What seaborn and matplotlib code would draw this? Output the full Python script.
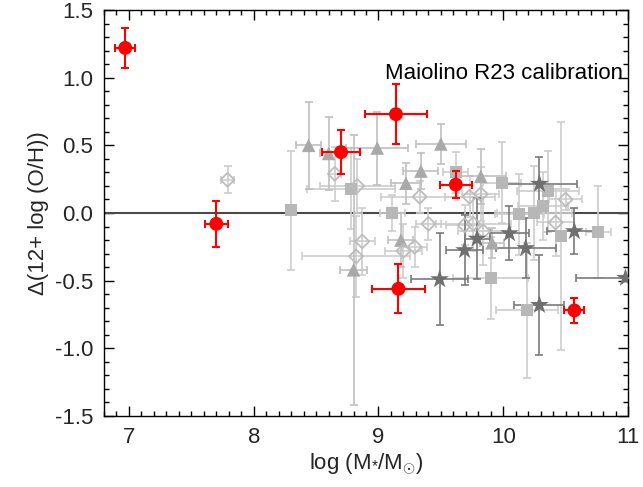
import numpy as np
import pandas as pd
import matplotlib
matplotlib.use("Agg")
import matplotlib.pyplot as plt
import seaborn as sns
from matplotlib.ticker import MultipleLocator

# ---- data ----
red_x = [6.97, 7.70, 8.70, 9.14, 9.62, 9.16, 10.57]
red_y = [1.22, -0.08, 0.45, 0.73, 0.21, -0.56, -0.72]
red_xerr = [0.08, 0.09, 0.15, 0.25, 0.13, 0.21, 0.08]
red_yerr = [0.15, 0.17, 0.16, 0.22, 0.10, 0.18, 0.095]

sq_x = [8.30, 8.78, 9.11, 9.62, 9.99, 10.36, 10.32, 10.25, 10.13, 10.46, 10.76, 9.90, 10.19]
sq_y = [0.02, 0.18, 0.00, 0.30, 0.225, 0.16, 0.05, 0.00, -0.01, -0.17, -0.14, -0.48, -0.72]
sq_xerr = [0.0, 0.35, 0.10, 0.10, 0.15, 0.25, 0.20, 0.30, 0.20, 0.0, 0.10, 0.30, 0.25]
sq_yerr = [0.44, 0.30, 0.13, 0.15, 0.30, 0.30, 0.25, 0.35, 0.30, 0.84, 0.34, 0.30, 0.50]

tri_x = [8.44, 8.60, 8.99, 9.50, 9.34, 9.22, 9.82, 9.91, 9.18, 8.80]
tri_y = [0.50, 0.44, 0.48, 0.51, 0.31, 0.22, 0.27, -0.22, -0.20, -0.42]
tri_xerr = [0.10, 0.07, 0.25, 0.20, 0.14, 0.12, 0.20, 0.10, 0.10, 0.11]
tri_yerr = [0.32, 0.27, 0.27, 0.15, 0.13, 0.15, 0.20, 0.11, 0.20, 1.00]

dia_x = [7.79, 8.65, 8.83, 9.33, 9.73, 9.82, 9.40, 9.69, 9.76, 9.84, 10.42, 10.50, 8.87, 8.82, 9.20, 9.29]
dia_y = [0.245, 0.29, 0.20, 0.12, 0.12, 0.14, -0.08, -0.09, -0.08, -0.135, -0.07, 0.10, -0.21, -0.32, -0.28, -0.25]
dia_xerr = [0.05, 0.05, 0.30, 0.31, 0.20, 0.15, 0.10, 0.15, 0.30, 0.20, 0.15, 0.13, 0.10, 0.43, 0.15, 0.10]
dia_yerr = [0.10, 0.20, 0.20, 0.12, 0.15, 0.20, 0.12, 0.15, 0.20, 0.25, 0.25, 0.08, 0.25, 0.30, 0.20, 0.15]

star_x = [10.29, 10.05, 10.18, 10.57, 10.98, 10.29, 9.49, 9.69, 9.79]
star_y = [0.215, -0.15, -0.26, -0.135, -0.48, -0.68, -0.49, -0.275, -0.19]
star_xerr = [0.30, 0.16, 0.24, 0.22, 0.40, 0.20, 0.23, 0.15, 0.10]
star_yerr = [0.20, 0.20, 0.22, 0.17, 0.0, 0.37, 0.34, 0.26, 0.30]

x_ticks = [7, 8, 9, 10, 11]
y_ticks = [-1.5, -1.0, -0.5, 0.0, 0.5, 1.0, 1.5]

# ---- style ----
sns.set_theme(style="ticks")
plt.rcParams["font.family"] = ["Liberation Sans", "DejaVu Sans"]
plt.rcParams["mathtext.fontset"] = "custom"
plt.rcParams["mathtext.rm"] = "Liberation Sans"
plt.rcParams["mathtext.it"] = "Liberation Sans:italic"

fig = plt.figure(figsize=(6.43, 4.87), dpi=100)
ax = fig.add_axes([104 / 643, 1 - 416 / 487, (628 - 104) / 643, (416 - 10) / 487])

ax.axhline(0.0, color="#4a4a4a", lw=1.5, zorder=1)

def draw(xs, ys, xe, ye, ecolor, elw, cap, z):
    ax.errorbar(xs, ys, xerr=xe, yerr=ye, fmt="none", ecolor=ecolor,
                elinewidth=elw, capsize=cap, capthick=elw, zorder=z)

draw(sq_x, sq_y, sq_xerr, sq_yerr, "#cdcdcd", 1.2, 3, 2)
draw(dia_x, dia_y, dia_xerr, dia_yerr, "#cdcdcd", 1.2, 3, 2)
draw(tri_x, tri_y, tri_xerr, tri_yerr, "#c0c0c0", 1.2, 3, 2)
draw(star_x, star_y, star_xerr, star_yerr, "#7a7a7a", 1.2, 3, 3)

df_sq = pd.DataFrame({"x": sq_x, "y": sq_y})
df_tri = pd.DataFrame({"x": tri_x, "y": tri_y})
df_dia = pd.DataFrame({"x": dia_x, "y": dia_y})
df_star = pd.DataFrame({"x": star_x, "y": star_y})
df_red = pd.DataFrame({"x": red_x, "y": red_y})

sns.scatterplot(data=df_sq, x="x", y="y", marker="s", s=75, color="#b7b7b7",
                edgecolor="none", linewidth=0, ax=ax, zorder=4)
sns.scatterplot(data=df_tri, x="x", y="y", marker="^", s=95, color="#a9a9a9",
                edgecolor="none", linewidth=0, ax=ax, zorder=4)
sns.scatterplot(data=df_dia, x="x", y="y", marker="D", s=50, facecolor="none",
                edgecolor="#bdbdbd", linewidth=1.3, ax=ax, zorder=4)
sns.scatterplot(data=df_star, x="x", y="y", marker="*", s=200, color="#6f6f6f",
                edgecolor="none", linewidth=0, ax=ax, zorder=5)

draw(red_x, red_y, red_xerr, red_yerr, "#ff0000", 1.5, 3, 6)
sns.scatterplot(data=df_red, x="x", y="y", marker="o", s=100, color="#ff0000",
                edgecolor="none", linewidth=0, ax=ax, zorder=7)

ax.text(10.96, 1.03, "Maiolino R23 calibration", ha="right", va="center",
        fontsize=16, color="black")

ax.set_xlim(6.8, 11.0)
ax.set_ylim(-1.5, 1.5)
ax.set_xticks(x_ticks)
ax.set_xticklabels([str(t) for t in x_ticks])
ax.set_yticks(y_ticks)
ax.set_yticklabels([f"{t:.1f}" for t in y_ticks])
ax.xaxis.set_minor_locator(MultipleLocator(0.1))
ax.yaxis.set_minor_locator(MultipleLocator(0.1))
ax.tick_params(which="both", direction="in", top=True, right=True,
               color="black", width=1.0)
ax.tick_params(which="major", length=7, labelsize=16, pad=8)
ax.tick_params(which="minor", length=3.5)
for sp in ax.spines.values():
    sp.set_color("black")
    sp.set_linewidth(1.0)

ax.set_xlabel(r"log (M$_{*}$/M$_{\odot}$)", fontsize=16, labelpad=2)
ax.set_ylabel("Δ(12+ log (O/H))", fontsize=16, labelpad=4)

fig.savefig("out.png", dpi=100)
